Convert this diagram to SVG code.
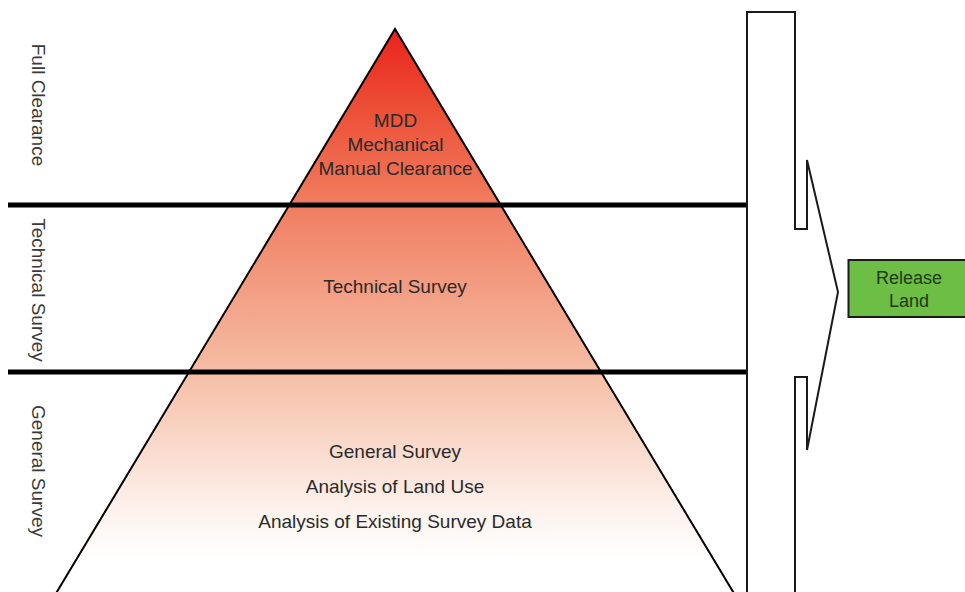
<svg xmlns="http://www.w3.org/2000/svg" width="965" height="592" viewBox="0 0 965 592">
<defs>
<linearGradient id="pyrGrad" gradientUnits="userSpaceOnUse" x1="0" y1="29" x2="0" y2="560">
<stop offset="0" stop-color="#E9221B"/>
<stop offset="0.15" stop-color="#EC4F36"/>
<stop offset="0.33" stop-color="#F07D60"/>
<stop offset="0.65" stop-color="#F6BEA6"/>
<stop offset="0.9" stop-color="#FDF1EC"/>
<stop offset="1" stop-color="#FFFFFF"/>
</linearGradient>
<style>
.lbl{font-family:"Liberation Sans",Arial,Helvetica,sans-serif;font-size:19px;fill:#2a2a2a;text-anchor:middle}
.side{font-family:"Liberation Sans",Arial,Helvetica,sans-serif;font-size:19px;fill:#3a3a3a;text-anchor:middle}
.rel{font-family:"Liberation Sans",Arial,Helvetica,sans-serif;font-size:18px;fill:#1f3a14;text-anchor:middle}
.band{stroke:#000;stroke-width:5;fill:none}
</style>
</defs>
<rect x="0" y="0" width="965" height="592" fill="#FFFFFF"/>

<g id="pyramid">
<polygon points="395,29 57,592 733,592" fill="url(#pyrGrad)"/>
<polyline points="40,620 395,29 750,620" fill="none" stroke="#000" stroke-width="2" stroke-linejoin="miter"/>
<text class="lbl" x="395.5" y="127">MDD</text>
<text class="lbl" x="395.5" y="151">Mechanical</text>
<text class="lbl" x="395.5" y="175">Manual Clearance</text>
<text class="lbl" x="395" y="293">Technical Survey</text>
<text class="lbl" x="395" y="458">General Survey</text>
<text class="lbl" x="395" y="493">Analysis of Land Use</text>
<text class="lbl" x="395" y="528">Analysis of Existing Survey Data</text>
</g>

<g id="connectors">
<line class="band" x1="8" y1="205" x2="748" y2="205"/>
<line class="band" x1="8" y1="372" x2="748" y2="372"/>
</g>

<g id="side-labels">
<text class="side" transform="translate(32,105) rotate(90)">Full Clearance</text>
<text class="side" transform="translate(32,290) rotate(90)">Technical Survey</text>
<text class="side" transform="translate(32,471) rotate(90)">General Survey</text>
</g>

<g id="release-arrow">
<path d="M747,600 L747,12 L795,12 L795,229 L807,229 L807,160 L838,292 L807,450 L807,377 L795,377 L795,600" fill="#FFFFFF" stroke="#1a1a1a" stroke-width="2" stroke-linejoin="miter"/>
</g>

<g id="release-land">
<rect x="848.5" y="260" width="120" height="57" fill="#6CBE45" stroke="#1a1a1a" stroke-width="2"/>
<text class="rel" x="909" y="284">Release</text>
<text class="rel" x="909" y="307">Land</text>
</g>
</svg>
